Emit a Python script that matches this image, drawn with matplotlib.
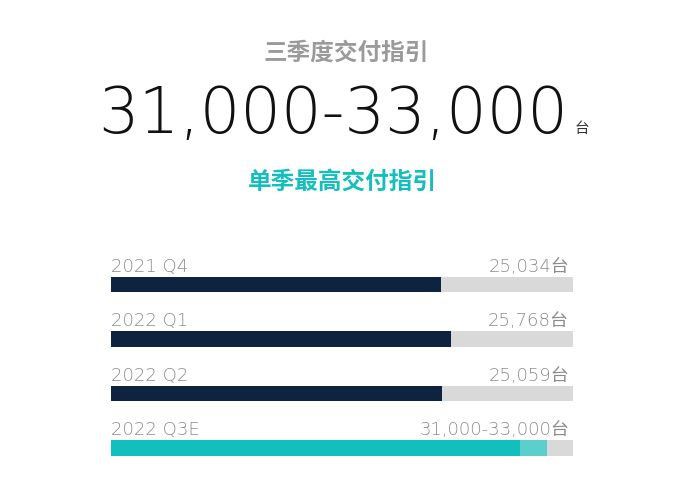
import matplotlib
matplotlib.use("Agg")
import matplotlib.pyplot as plt

plt.rcParams['font.family'] = ['Noto Sans CJK SC', 'DejaVu Sans']

categories = ["2021 Q4", "2022 Q1", "2022 Q2", "2022 Q3E"]
values = [25034, 25768, 25059, 31000]
upper = [None, None, None, 33000]
value_labels = ["25,034台", "25,768台", "25,059台", "31,000-33,000台"]
scale_max = 35000

title = "三季度交付指引"
headline = "31,000-33,000"
unit = "台"
subtitle = "单季最高交付指引"

navy = "#0E2340"
teal = "#12BFBD"
teal_light = "#5ACFCB"
track = "#D9D9D9"
label_gray = "#8C8C8C"

fig = plt.figure(figsize=(6.9, 4.96), dpi=100)
fig.patch.set_facecolor("white")

fig.text(346/690, 1 - 53/496, title, ha="center", va="center",
         fontsize=17, fontweight="bold", color="#9A9A9A")
fig.text(333/690, 1 - 133/496, headline, ha="center", va="baseline",
         fontsize=46, fontweight=200, color="#111111",
         family=["DejaVu Sans"])
fig.text(575/690, 1 - 133/496, unit, ha="left", va="baseline",
         fontsize=10.5, color="#333333")
fig.text(342/690, 1 - 182/496, subtitle, ha="center", va="center",
         fontsize=17, fontweight="bold", color=teal)

ax = fig.add_axes([111/690, 0, 462/690, 1])
ax.set_xlim(0, scale_max)
ax.set_ylim(496, 0)
ax.axis("off")

bar_h = 15.5
lab_font = ["DejaVu Sans", "Noto Sans CJK SC"]
for i, cat in enumerate(categories):
    y = 284.5 + i * 54.5
    ax.barh(y, scale_max, height=bar_h, color=track, left=0)
    col = teal if i == 3 else navy
    if upper[i] is not None:
        ax.barh(y, upper[i], height=bar_h, color=teal_light, left=0)
    ax.barh(y, values[i], height=bar_h, color=col, left=0)
    ax.text(0, y - bar_h/2 - 5, cat, ha="left", va="baseline",
            fontsize=13, fontweight=200, color=label_gray,
            family=lab_font)
    ax.text(scale_max - 300, y - bar_h/2 - 5, value_labels[i], ha="right",
            va="baseline", fontsize=13, fontweight=200, color=label_gray,
            family=lab_font)

fig.savefig("out.png", dpi=100, facecolor="white")
